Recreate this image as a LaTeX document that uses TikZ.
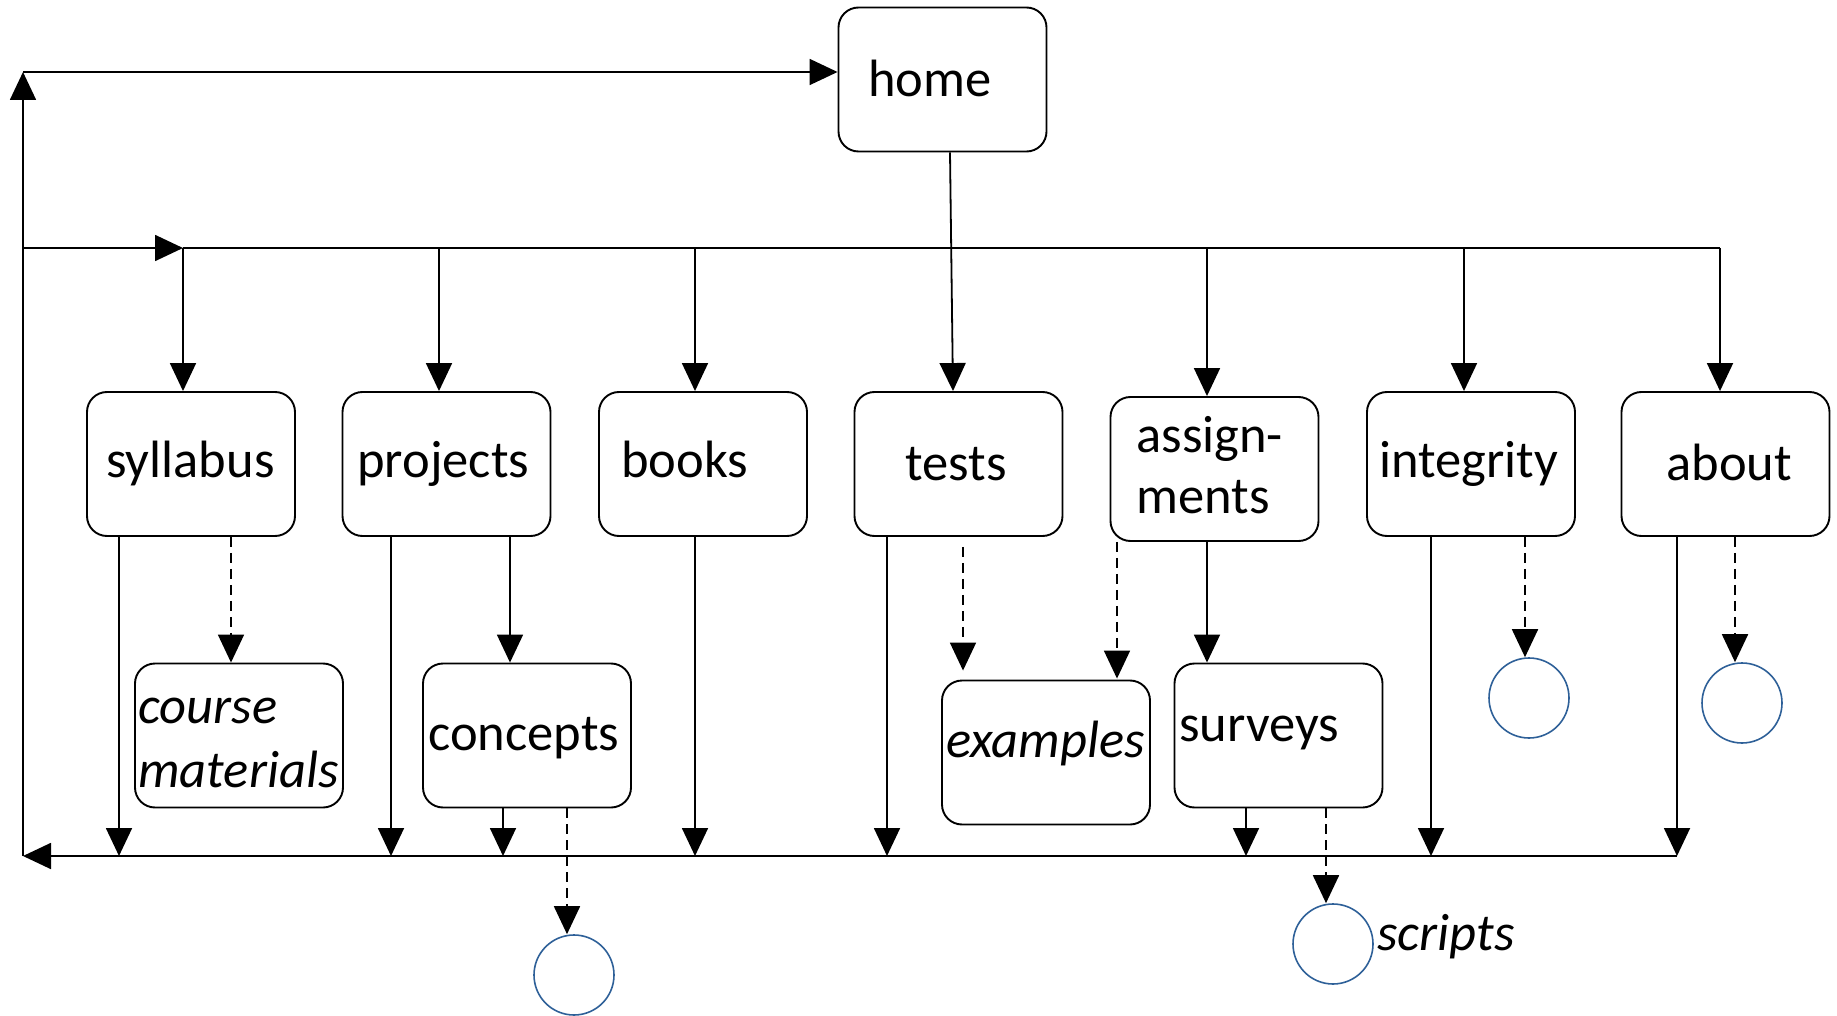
\documentclass[tikz,border=0pt]{standalone}
\usepackage{fontspec}
\setmainfont{Carlito}
\usetikzlibrary{arrows.meta,calc}
\definecolor{ringblue}{RGB}{46,96,152}
\begin{document}
\begin{tikzpicture}[x=0.5pt,y=-0.5pt]
\tikzset{
  box/.style={draw, rounded corners=10pt, minimum width=104pt, minimum height=72pt, inner sep=0pt, line width=0.95pt},
  txt/.style={anchor=base west, inner sep=0pt, font=\fontsize{26.25}{31}\selectfont},
  itxt/.style={anchor=base west, inner sep=0pt, font=\fontsize{26.25}{31}\selectfont\itshape},
  ln/.style={line width=0.9pt},
  arr/.style={ln, -{Triangle[length=14pt,width=13pt]}},
  darr/.style={arr, dash pattern=on 5pt off 3pt},
  ring/.style={circle, draw=ringblue, line width=0.8pt, minimum size=40pt, inner sep=0pt},
}
\useasboundingbox (0,0) rectangle (1837,1016);

% pages
\node[box] (home)   at (942.5,79.5) {};
\node[box] (syl)    at (191,464)    {};
\node[box] (proj)   at (446.5,464)  {};
\node[box] (books)  at (703,464)    {};
\node[box] (tests)  at (958.5,464)  {};
\node[box] (asg)    at (1214.5,469) {};
\node[box] (integ)  at (1471,464)   {};
\node[box] (about)  at (1725.5,464) {};
\node[box] (course) at (239,735.5)  {};
\node[box] (conc)   at (527,735.5)  {};
\node[box] (ex)     at (1046,752.5) {};
\node[box] (surv)   at (1278.5,735.5) {};

% external resources
\node[ring] (r1) at (574,975)  {};
\node[ring] (r2) at (1529,698) {};
\node[ring] (r3) at (1742,703) {};
\node[ring] (r4) at (1333,944) {};

% labels
\node[txt]  (thome)  at (868,97)   {home};
\node[txt]  (tsyl)   at (106,477)  {syllabus};
\node[txt]  (tproj)  at (357,477)  {projects};
\node[txt]  (tbooks) at (621,477)  {books};
\node[txt]  (ttests) at (905,480)  {tests};
\node[txt]  (tasg1)  at (1136,452) {assign-};
\node[txt]  (tasg2)  at (1136,513) {ments};
\node[txt]  (tinteg) at (1379,477) {integrity};
\node[txt]  (tabout) at (1666,480) {about};
\node[itxt] (tcrs1)  at (138,723)  {course};
\node[itxt] (tcrs2)  at (138,787)  {materials};
\node[txt]  (tconc)  at (428,750)  {concepts};
\node[itxt] (tex)    at (946,757)  {examples};
\node[txt]  (tsurv)  at (1179,741) {surveys};
\node[itxt] (tscr)   at (1377,950) {scripts};

% bus corners
\coordinate (tl) at (23,72);
\coordinate (ml) at (23,248);
\coordinate (bl) at (23,856);
\coordinate (br) at (1677,856);
\coordinate (mh) at (183,248);
\coordinate (mr) at (1720,248);

% connector columns
\coordinate (k119)  at (119,0);
\coordinate (k231)  at (231,0);
\coordinate (k391)  at (391,0);
\coordinate (k439)  at (439,0);
\coordinate (k503)  at (503,0);
\coordinate (k510)  at (510,0);
\coordinate (k567)  at (567,0);
\coordinate (k695)  at (695,0);
\coordinate (k887)  at (887,0);
\coordinate (k963)  at (963,0);
\coordinate (k1117) at (1117,0);
\coordinate (k1207) at (1207,0);
\coordinate (k1246) at (1246,0);
\coordinate (k1326) at (1326,0);
\coordinate (k1431) at (1431,0);
\coordinate (k1464) at (1464,0);
\coordinate (k1525) at (1525,0);
\coordinate (k1735) at (1735,0);

% return loop to home
\draw[arr] (br) -- (bl);
\draw[arr] (bl) -- (tl);
\draw[arr] (tl) -- (tl -| home.west);

% navigation bar
\draw[arr] (ml) -- (mh);
\draw[ln] (mh) -- (mr);
\draw[arr] (mh) -- (mh |- syl.north);
\draw[arr] (k439 |- mh) -- (k439 |- proj.north);
\draw[arr] (k695 |- mh) -- (k695 |- books.north);
\draw[arr] (k1207 |- mh) -- (k1207 |- asg.north);
\draw[arr] (k1464 |- mh) -- (k1464 |- integ.north);
\draw[arr] (mr) -- (mr |- about.north);
\draw[arr] ([xshift=3.75pt]home.south) -- ([xshift=-2.75pt]tests.north);

% back to the bottom bar
\draw[arr] (k119 |- syl.south) -- (k119 |- bl);
\draw[arr] (k391 |- proj.south) -- (k391 |- bl);
\draw[arr] (k503 |- conc.south) -- (k503 |- bl);
\draw[arr] (k695 |- books.south) -- (k695 |- bl);
\draw[arr] (k887 |- tests.south) -- (k887 |- bl);
\draw[arr] (k1246 |- surv.south) -- (k1246 |- bl);
\draw[arr] (k1431 |- integ.south) -- (k1431 |- bl);
\draw[arr] (br |- about.south) -- (br);

% sub-pages
\draw[arr] (k510 |- proj.south) -- (k510 |- conc.north);
\draw[arr] (k1207 |- asg.south) -- (k1207 |- surv.north);

% optional links
\draw[darr] (k231 |- syl.south) -- (k231 |- course.north);
\draw[darr] (k567 |- conc.south) -- (k567 |- r1.north);
\draw[darr] ($(k963 |- tests.south)+(0,10)$) -- ($(k963 |- ex.north)+(0,-9)$);
\draw[darr] (k1117 |- asg.south) -- ($(k1117 |- ex.north)+(0,-1)$);
\draw[darr] (k1326 |- surv.south) -- (k1326 |- r4.north);
\draw[darr] (k1525 |- integ.south) -- (k1525 |- r2.north);
\draw[darr] (k1735 |- about.south) -- (k1735 |- r3.north);
\end{tikzpicture}
\end{document}
